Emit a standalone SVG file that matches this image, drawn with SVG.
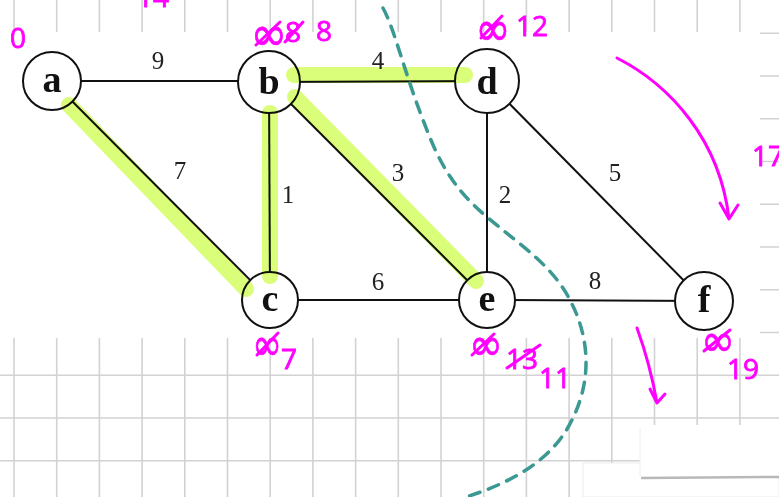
<svg xmlns="http://www.w3.org/2000/svg" width="779" height="497" viewBox="0 0 779 497">
<defs>
<style>
.grid line{stroke:#d2d2d2;stroke-width:1.6}
.edge{stroke:#111;stroke-width:2;fill:none}
.hl{stroke:#dafd7a;stroke-width:16;stroke-linecap:round;fill:none;mix-blend-mode:multiply}
.node circle{fill:#fff;stroke:#111;stroke-width:2}
.node text{font-family:"Liberation Serif",serif;font-weight:bold;font-size:38px;fill:#111;text-anchor:middle}
.lbl{font-family:"Liberation Serif",serif;font-size:25px;fill:#222;text-anchor:middle}
.pk{font-family:"Open Sans","Liberation Sans",sans-serif;font-weight:normal;fill:#ff00ff;stroke:#ff00ff;stroke-width:0.8;font-size:28px}
.inf{font-family:"DejaVu Sans",sans-serif;font-weight:normal;fill:#ff00ff;stroke:#ff00ff;stroke-width:0.5;font-size:34px;text-anchor:middle}
.pks{stroke:#ff00ff;stroke-width:3;fill:none;stroke-linecap:round;stroke-linejoin:round}
.teal{stroke:#3b9892;stroke-width:3.5;fill:none;stroke-dasharray:11 9;stroke-linecap:round}
</style>
</defs>
<rect width="779" height="497" fill="#fff"/>
<g class="grid">
<line x1="14" y1="0" x2="14" y2="497"/><line x1="56.7" y1="0" x2="56.7" y2="497"/><line x1="99.4" y1="0" x2="99.4" y2="497"/><line x1="142.1" y1="0" x2="142.1" y2="497"/><line x1="184.8" y1="0" x2="184.8" y2="497"/><line x1="227.5" y1="0" x2="227.5" y2="497"/><line x1="270.2" y1="0" x2="270.2" y2="497"/><line x1="312.9" y1="0" x2="312.9" y2="497"/><line x1="355.6" y1="0" x2="355.6" y2="497"/><line x1="398.3" y1="0" x2="398.3" y2="497"/><line x1="441" y1="0" x2="441" y2="497"/><line x1="483.7" y1="0" x2="483.7" y2="497"/><line x1="526.4" y1="0" x2="526.4" y2="497"/><line x1="569.1" y1="0" x2="569.1" y2="497"/><line x1="611.8" y1="0" x2="611.8" y2="497"/><line x1="654.5" y1="0" x2="654.5" y2="497"/><line x1="697.2" y1="0" x2="697.2" y2="497"/><line x1="739.9" y1="0" x2="739.9" y2="497"/>
<line x1="0" y1="33.3" x2="779" y2="33.3"/><line x1="0" y1="76" x2="779" y2="76"/><line x1="0" y1="118.8" x2="779" y2="118.8"/><line x1="0" y1="161.5" x2="779" y2="161.5"/><line x1="0" y1="204.3" x2="779" y2="204.3"/><line x1="0" y1="247" x2="779" y2="247"/><line x1="0" y1="289.8" x2="779" y2="289.8"/><line x1="0" y1="332.5" x2="779" y2="332.5"/><line x1="0" y1="375.3" x2="779" y2="375.3"/><line x1="0" y1="418" x2="779" y2="418"/><line x1="0" y1="460.8" x2="779" y2="460.8"/>
</g>
<rect x="0" y="32" width="760" height="306" fill="#fff"/>
<rect x="583" y="463" width="196" height="34" fill="#fff" stroke="#ececec" stroke-width="1"/>
<rect x="640" y="425" width="139" height="53" fill="#fff"/>
<line x1="641" y1="478" x2="779" y2="477" stroke="#b8b8b8" stroke-width="2.5"/>
<line x1="640" y1="428" x2="640" y2="477" stroke="#eee" stroke-width="1"/>

<g id="connectors">
<line class="edge" x1="52" y1="81" x2="269" y2="81"/>
<line class="edge" x1="52" y1="81" x2="270" y2="300"/>
<line class="edge" x1="269" y1="82" x2="487" y2="81"/>
<line class="edge" x1="269" y1="82" x2="270" y2="300"/>
<line class="edge" x1="269" y1="82" x2="487" y2="300"/>
<line class="edge" x1="487" y1="81" x2="487" y2="300"/>
<line class="edge" x1="487" y1="81" x2="704" y2="301"/>
<line class="edge" x1="270" y1="300" x2="487" y2="300"/>
<line class="edge" x1="487" y1="300" x2="704" y2="301"/>
<text class="lbl" x="158" y="69">9</text>
<text class="lbl" x="180" y="179">7</text>
<text class="lbl" x="288" y="203">1</text>
<text class="lbl" x="378" y="69">4</text>
<text class="lbl" x="398" y="181">3</text>
<text class="lbl" x="505" y="203">2</text>
<text class="lbl" x="615" y="181">5</text>
<text class="lbl" x="378" y="290">6</text>
<text class="lbl" x="595" y="289">8</text>
</g>

<g id="a" class="node"><circle cx="52" cy="81" r="29"/><text x="52" y="92">a</text></g>
<g id="b" class="node"><circle cx="269" cy="82" r="31"/><text x="269" y="94">b</text></g>
<g id="d" class="node"><circle cx="487" cy="81" r="32"/><text x="487" y="94">d</text></g>
<g id="c" class="node"><circle cx="270" cy="300" r="28"/><text x="270" y="311">c</text></g>
<g id="e" class="node"><circle cx="487" cy="300" r="28"/><text x="487" y="311">e</text></g>
<g id="f" class="node"><circle cx="704" cy="301" r="29"/><text x="704" y="312">f</text></g>

<g id="highlights">
<line class="hl" x1="69" y1="105" x2="246" y2="289"/>
<line class="hl" x1="270" y1="113" x2="270" y2="276"/>
<line class="hl" x1="294" y1="75" x2="465" y2="75"/>
<line class="hl" x1="295" y1="97" x2="476" y2="281"/>
</g>

<path class="teal" d="M383,8 C395,30 405,75 425,125 C440,165 455,190 487,217 C520,245 552,265 570,300 C590,338 592,380 572,420 C555,455 520,480 466,497"/>

<g id="annotations">
<text class="pk" x="10" y="48">0</text>
<text class="pk" x="137" y="7">14</text>
<text class="inf" transform="translate(269,50) scale(1.3,1.4)">∞</text>
<path class="pks" d="M256,45 L280,22"/>
<text class="pk" x="285" y="42">8</text>
<path class="pks" d="M285,42 L303,22"/>
<text class="pk" x="316" y="41">8</text>
<text class="inf" transform="translate(493,45) scale(1.25,1.4)">∞</text>
<path class="pks" d="M481,38 L502,16"/>
<text class="pk" x="516" y="36">12</text>
<text class="pk" x="752" y="166">17</text>
<path class="pks" d="M617,58 C670,85 720,140 729,219 M720,203 L729,219 L738,205"/>
<text class="inf" transform="translate(267,360) scale(1.05,1.35)">∞</text>
<path class="pks" d="M257,355 L278,333"/>
<text class="pk" x="281" y="369">7</text>
<text class="inf" transform="translate(486,360) scale(1.2,1.35)">∞</text>
<path class="pks" d="M472,355 L494,334"/>
<text class="pk" x="506" y="369">13</text>
<path class="pks" d="M507,368 L540,345"/>
<text class="pk" x="539" y="388">11</text>
<text class="inf" transform="translate(718,356) scale(1.2,1.35)">∞</text>
<path class="pks" d="M704,351 L730,330"/>
<text class="pk" x="727" y="379">19</text>
<path class="pks" d="M637,328 C645,350 652,375 657,403 M650,389 L657,403 L665,394"/>
</g>
</svg>
